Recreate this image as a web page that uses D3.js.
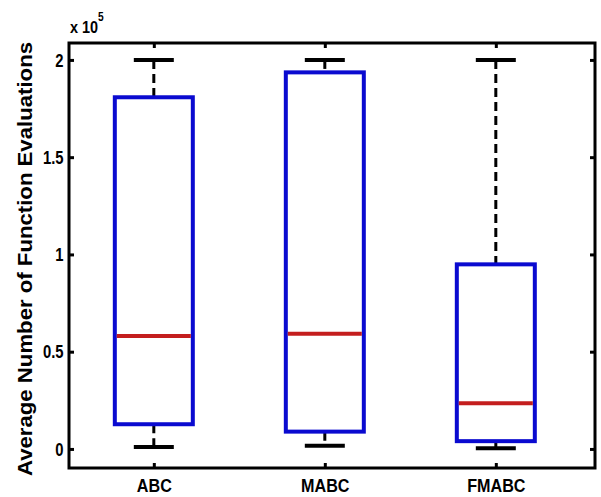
<!DOCTYPE html>
<html><head><meta charset="utf-8">
<script src="https://cdn.jsdelivr.net/npm/d3@7"></script>
<style>body{margin:0;background:#fff}svg{display:block}text{font-family:"Liberation Sans",Arial,sans-serif;font-weight:bold;fill:#000}</style>
</head><body>
<div id="chart"></div>
<script>
const categories = ["ABC", "MABC", "FMABC"];
// values in units of 1e5
const whiskerLow = [0.010, 0.017, 0.004];
const q1 = [0.127, 0.089, 0.040];
const median = [0.580, 0.592, 0.235];
const q3 = [1.808, 1.936, 0.949];
const whiskerHigh = [2.0, 2.0, 2.0];
const yTicks = [0, 0.5, 1, 1.5, 2];
const yTickLabels = ["0", "0.5", "1", "1.5", "2"];

(function () {
const W = 601, H = 497;
const mLeft = 69, mRight = 595, mTop = 43, mBottom = 468;
const svg = d3.select("#chart").append("svg").attr("width", W).attr("height", H);

const x = d3.scaleLinear().domain([0.504, 3.58]).range([mLeft, mRight]);
const y = d3.scaleLinear().domain([-0.098, 2.087]).range([mBottom, mTop]);

const data = categories.map((c, i) => ({c, i: i + 1, lo: whiskerLow[i], q1: q1[i], med: median[i], q3: q3[i], hi: whiskerHigh[i]}));

const boxW = 78, capW = 40;
const g = svg.append("g");
g.selectAll(".wu").data(data).join("line")
  .attr("x1", d => x(d.i)).attr("x2", d => x(d.i))
  .attr("y1", d => y(d.hi)).attr("y2", d => y(d.q3))
  .attr("stroke", "#000").attr("stroke-width", 3).attr("stroke-dasharray", "9,5");
g.selectAll(".wl").data(data).join("line")
  .attr("x1", d => x(d.i)).attr("x2", d => x(d.i))
  .attr("y1", d => y(d.q1)).attr("y2", d => y(d.lo))
  .attr("stroke", "#000").attr("stroke-width", 3).attr("stroke-dasharray", "9,5");
g.selectAll(".ch").data(data).join("line")
  .attr("x1", d => x(d.i) - capW / 2).attr("x2", d => x(d.i) + capW / 2)
  .attr("y1", d => y(d.hi)).attr("y2", d => y(d.hi))
  .attr("stroke", "#000").attr("stroke-width", 4);
g.selectAll(".cl").data(data).join("line")
  .attr("x1", d => x(d.i) - capW / 2).attr("x2", d => x(d.i) + capW / 2)
  .attr("y1", d => y(d.lo)).attr("y2", d => y(d.lo))
  .attr("stroke", "#000").attr("stroke-width", 4);
g.selectAll(".box").data(data).join("rect")
  .attr("x", d => x(d.i) - boxW / 2).attr("width", boxW)
  .attr("y", d => y(d.q3)).attr("height", d => y(d.q1) - y(d.q3))
  .attr("fill", "#fff").attr("stroke", "#0a0ad0").attr("stroke-width", 4);
g.selectAll(".med").data(data).join("line")
  .attr("x1", d => x(d.i) - boxW / 2 + 2).attr("x2", d => x(d.i) + boxW / 2 - 2)
  .attr("y1", d => y(d.med)).attr("y2", d => y(d.med))
  .attr("stroke", "#c41e1e").attr("stroke-width", 4);

svg.append("rect").attr("x", mLeft).attr("y", mTop).attr("width", mRight - mLeft).attr("height", mBottom - mTop)
  .attr("fill", "none").attr("stroke", "#000").attr("stroke-width", 3);

const yAxisL = d3.axisLeft(y).tickValues(yTicks).tickSize(-5).tickPadding(8).tickFormat((d, i) => yTickLabels[i]);
const ga = svg.append("g").attr("transform", `translate(${mLeft},0)`).call(yAxisL);
ga.select(".domain").remove();
ga.selectAll(".tick line").attr("stroke", "#000").attr("stroke-width", 3);
ga.selectAll(".tick text").attr("font-size", 19).attr("font-family", null).attr("fill", "#000")
  .attr("x", -7).attr("transform", "scale(0.78,1)");
const yAxisR = d3.axisRight(y).tickValues(yTicks).tickSize(-5).tickFormat("");
const gr = svg.append("g").attr("transform", `translate(${mRight},0)`).call(yAxisR);
gr.select(".domain").remove();
gr.selectAll(".tick line").attr("stroke", "#000").attr("stroke-width", 3);

const xAxisB = d3.axisBottom(x).tickValues([1, 2, 3]).tickSize(-5).tickPadding(11).tickFormat((d, i) => categories[i]);
const gb = svg.append("g").attr("transform", `translate(0,${mBottom})`).call(xAxisB);
gb.select(".domain").remove();
gb.selectAll(".tick line").attr("stroke", "#000").attr("stroke-width", 3);
gb.selectAll(".tick text").attr("font-size", 19).attr("font-family", null).attr("fill", "#000")
  .attr("transform", "scale(0.85,1)");
const xAxisT = d3.axisTop(x).tickValues([1, 2, 3]).tickSize(-5).tickFormat("");
const gt = svg.append("g").attr("transform", `translate(0,${mTop})`).call(xAxisT);
gt.select(".domain").remove();
gt.selectAll(".tick line").attr("stroke", "#000").attr("stroke-width", 3);

const mult = svg.append("text").attr("transform", `translate(${mLeft + 1},33) scale(0.85,1)`).attr("font-size", 17);
mult.append("tspan").text("x 10");
mult.append("tspan").attr("dy", -12).attr("font-size", 12).text("5");

svg.append("text").attr("transform", `translate(32,259) rotate(-90)`)
  .attr("text-anchor", "middle").attr("font-size", 20)
  .attr("textLength", 434).attr("lengthAdjust", "spacingAndGlyphs")
  .text("Average Number of Function Evaluations");
})();
</script>
</body></html>
